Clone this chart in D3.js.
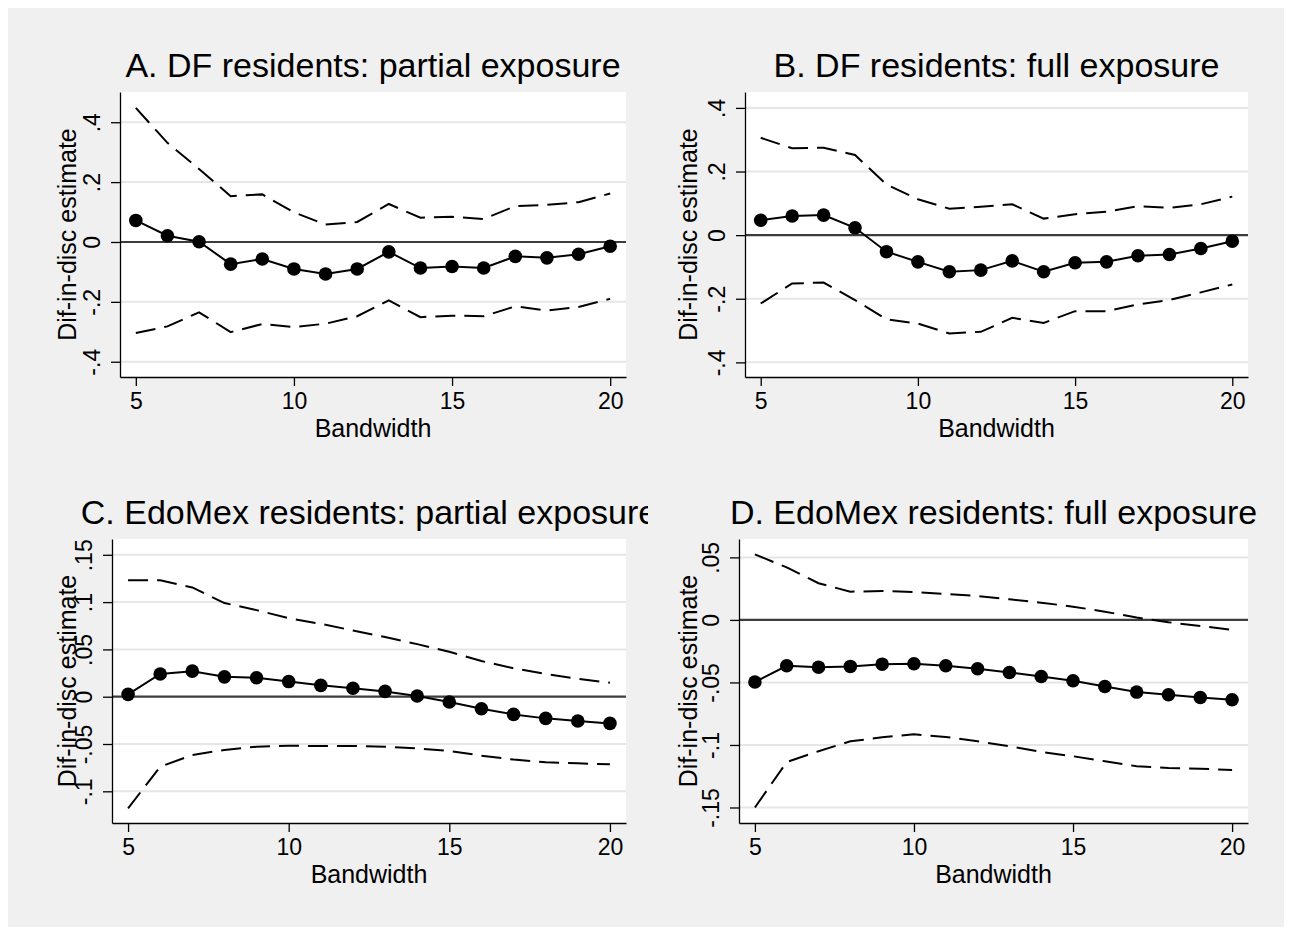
<!DOCTYPE html>
<html lang="en">
<head>
<meta charset="UTF-8">
<title>Dif-in-disc estimates by bandwidth</title>
<script src="https://cdn.jsdelivr.net/npm/d3@7"></script>
<style>
  body { margin: 0; background: #fff; }
  svg { font-family: "Liberation Sans", Arial, sans-serif; }
  .axis .domain { stroke: #000; stroke-width: 1.3; }
  .axis line { stroke: #000; stroke-width: 1.3; }
  .axis text { fill: #000; font-size: 23px; }
</style>
</head>
<body>
<svg width="1292" height="935"></svg>
<script>
// ---- data ----
var bandwidth = [5, 6, 7, 8, 9, 10, 11, 12, 13, 14, 15, 16, 17, 18, 19, 20];
var xTicks = [5, 10, 15, 20];

// A. DF residents: partial exposure
var estA = [0.072, 0.021, 0.001, -0.074, -0.057, -0.090, -0.107, -0.090, -0.033, -0.087, -0.082, -0.087, -0.048, -0.053, -0.041, -0.014];
var hiA  = [0.448, 0.331, 0.244, 0.153, 0.159, 0.099, 0.058, 0.067, 0.127, 0.081, 0.084, 0.077, 0.120, 0.124, 0.133, 0.162];
var loA  = [-0.304, -0.282, -0.235, -0.301, -0.274, -0.284, -0.273, -0.248, -0.195, -0.251, -0.246, -0.248, -0.215, -0.229, -0.217, -0.190];
var yTicksA  = [-0.4, -0.2, 0, 0.2, 0.4];
var yLabelsA = ["-.4", "-.2", "0", ".2", ".4"];

// B. DF residents: full exposure
var estB = [0.047, 0.060, 0.063, 0.023, -0.052, -0.084, -0.115, -0.110, -0.081, -0.115, -0.087, -0.084, -0.065, -0.061, -0.042, -0.019];
var hiB  = [0.306, 0.273, 0.275, 0.252, 0.159, 0.113, 0.083, 0.089, 0.097, 0.052, 0.066, 0.074, 0.091, 0.086, 0.097, 0.121];
var loB  = [-0.215, -0.152, -0.149, -0.204, -0.265, -0.278, -0.309, -0.304, -0.260, -0.276, -0.239, -0.239, -0.218, -0.204, -0.180, -0.155];
var yTicksB  = [-0.4, -0.2, 0, 0.2, 0.4];
var yLabelsB = ["-.4", "-.2", "0", ".2", ".4"];

// C. EdoMex residents: partial exposure
var estC = [0.0025, 0.024, 0.027, 0.021, 0.020, 0.016, 0.012, 0.009, 0.0056, 0.0007, -0.0056, -0.0127, -0.0187, -0.0229, -0.0257, -0.0282];
var hiC  = [0.123, 0.123, 0.1155, 0.099, 0.0915, 0.083, 0.077, 0.070, 0.063, 0.0556, 0.0475, 0.0377, 0.030, 0.024, 0.019, 0.0148];
var loC  = [-0.118, -0.074, -0.0616, -0.0563, -0.0528, -0.0518, -0.0521, -0.0521, -0.0528, -0.0546, -0.0574, -0.0623, -0.0665, -0.0694, -0.0704, -0.0715];
var yTicksC  = [-0.1, -0.05, 0, 0.05, 0.1, 0.15];
var yLabelsC = ["-.1", "-.05", "0", ".05", ".1", ".15"];

// D. EdoMex residents: full exposure
var estD = [-0.0497, -0.0367, -0.0378, -0.0372, -0.0354, -0.0351, -0.0367, -0.0391, -0.042, -0.0452, -0.0487, -0.0532, -0.0577, -0.0598, -0.062, -0.0638];
var hiD  = [0.0524, 0.0420, 0.0293, 0.0226, 0.0231, 0.0223, 0.0207, 0.0191, 0.0165, 0.0138, 0.0106, 0.0066, 0.0019, -0.0019, -0.0048, -0.008];
var loD  = [-0.150, -0.1136, -0.105, -0.0971, -0.0939, -0.0915, -0.0936, -0.0971, -0.101, -0.1056, -0.109, -0.113, -0.117, -0.1184, -0.119, -0.120];
var yTicksD  = [-0.15, -0.1, -0.05, 0, 0.05];
var yLabelsD = ["-.15", "-.1", "-.05", "0", ".05"];

// ---- layout of the four panels ----
var panels = [
  {title: "A. DF residents: partial exposure", est: estA, hi: hiA, lo: loA, ticks: yTicksA, labels: yLabelsA,
   yDomain: [-0.451, 0.501], box: {l: 120, t: 92, r: 626, b: 377}, titleX: 76, clip: [8, 648]},
  {title: "B. DF residents: full exposure", est: estB, hi: hiB, lo: loB, ticks: yTicksB, labels: yLabelsB,
   yDomain: [-0.446, 0.45], box: {l: 745, t: 92, r: 1248, b: 377}, titleX: 697, clip: [648, 1284]},
  {title: "C. EdoMex residents: partial exposure", est: estC, hi: hiC, lo: loC, ticks: yTicksC, labels: yLabelsC,
   yDomain: [-0.1335, 0.1667], box: {l: 112, t: 539, r: 626, b: 823}, titleX: 76, clip: [8, 648]},
  {title: "D. EdoMex residents: full exposure", est: estD, hi: hiD, lo: loD, ticks: yTicksD, labels: yLabelsD,
   yDomain: [-0.1624, 0.0647], box: {l: 739, t: 539, r: 1248, b: 823}, titleX: 697, clip: [648, 1284]}
];

var svg = d3.select("svg");
svg.append("rect").attr("x", 8).attr("y", 8).attr("width", 1276).attr("height", 919).attr("fill", "#f0f0f0");

panels.forEach(function(p, k) {
  var b = p.box;
  var x = d3.scaleLinear().domain([4.5, 20.5]).range([b.l, b.r]);
  var y = d3.scaleLinear().domain(p.yDomain).range([b.b, b.t]);

  var clipId = "clip" + k;
  svg.append("clipPath").attr("id", clipId)
    .append("rect").attr("x", p.clip[0]).attr("y", 0).attr("width", p.clip[1] - p.clip[0]).attr("height", 935);
  var g = svg.append("g").attr("clip-path", "url(#" + clipId + ")");

  // plot region
  g.append("rect").attr("x", b.l).attr("y", b.t).attr("width", b.r - b.l).attr("height", b.b - b.t).attr("fill", "#fff");

  // gridlines
  g.append("g").selectAll("line").data(p.ticks.filter(function(v){ return v !== 0; }))
    .enter().append("line")
    .attr("x1", b.l).attr("x2", b.r)
    .attr("y1", function(d){ return y(d); }).attr("y2", function(d){ return y(d); })
    .attr("stroke", "#e6e6e6").attr("stroke-width", 2);

  // zero reference line
  g.append("line").attr("x1", b.l).attr("x2", b.r).attr("y1", y(0)).attr("y2", y(0))
    .attr("stroke", "#3c3c3c").attr("stroke-width", 2.2);

  var line = d3.line().x(function(d, i){ return x(bandwidth[i]); }).y(function(d){ return y(d); });

  // confidence bounds
  [p.hi, p.lo].forEach(function(s) {
    g.append("path").datum(s).attr("d", line)
      .attr("fill", "none").attr("stroke", "#000").attr("stroke-width", 2)
      .attr("stroke-dasharray", "20,9");
  });

  // estimates
  g.append("path").datum(p.est).attr("d", line)
    .attr("fill", "none").attr("stroke", "#000").attr("stroke-width", 2);
  g.append("g").selectAll("circle").data(p.est).enter().append("circle")
    .attr("cx", function(d, i){ return x(bandwidth[i]); })
    .attr("cy", function(d){ return y(d); })
    .attr("r", 6.8).attr("fill", "#000");

  // axes
  var xa = g.append("g").attr("class", "axis").attr("transform", "translate(0," + b.b + ")")
    .call(d3.axisBottom(x).tickValues(xTicks).tickSize(9).tickSizeOuter(0).tickFormat(d3.format("d")));
  xa.selectAll("text").attr("y", 32).attr("dy", 0);

  var ya = g.append("g").attr("class", "axis").attr("transform", "translate(" + b.l + ",0)")
    .call(d3.axisLeft(y).tickValues(p.ticks).tickSize(9).tickSizeOuter(0)
      .tickFormat(function(d, i){ return p.labels[i]; }));
  ya.selectAll("text")
    .attr("x", 0).attr("dy", 0).attr("text-anchor", "middle")
    .attr("transform", "translate(-20,0) rotate(-90)");

  // axis titles
  g.append("text").attr("x", (b.l + b.r) / 2).attr("y", b.b + 59.5)
    .attr("text-anchor", "middle").attr("font-size", 25).text("Bandwidth");
  g.append("text")
    .attr("transform", "translate(" + p.titleX + "," + ((b.t + b.b) / 2) + ") rotate(-90)")
    .attr("text-anchor", "middle").attr("font-size", 25).text("Dif-in-disc estimate");

  // panel title
  g.append("text").attr("x", (b.l + b.r) / 2).attr("y", b.t - 15)
    .attr("text-anchor", "middle").attr("font-size", 34).text(p.title);
});
</script>
</body>
</html>
